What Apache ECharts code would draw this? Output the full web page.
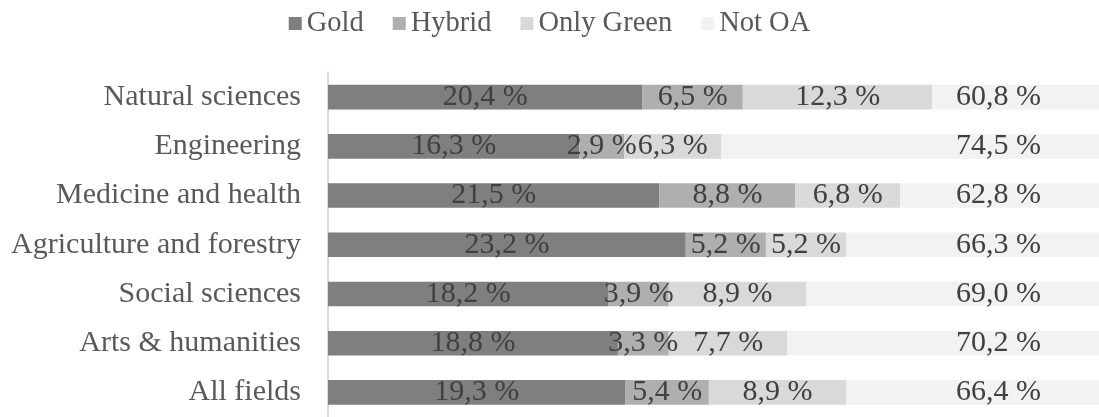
<!DOCTYPE html>
<html>
<head>
<meta charset="utf-8">
<script src="https://cdn.jsdelivr.net/npm/echarts@6/dist/echarts.min.js"></script>
<style>
  html, body { margin: 0; padding: 0; background: #fff; }
  #chart { width: 1099px; height: 417px; }
</style>
</head>
<body>
<div id="chart"></div>
<script>
  // categories, top to bottom
  let categories = ['Natural sciences', 'Engineering', 'Medicine and health', 'Agriculture and forestry',
    'Social sciences', 'Arts & humanities', 'All fields']
  let gold = [20.4, 16.3, 21.5, 23.2, 18.2, 18.8, 19.3]
  let hybrid = [6.5, 2.9, 8.8, 5.2, 3.9, 3.3, 5.4]
  let onlyGreen = [12.3, 6.3, 6.8, 5.2, 8.9, 7.7, 8.9]
  let notOA = [60.8, 74.5, 62.8, 66.3, 69.0, 70.2, 66.4]
  let seriesNames = ['Gold', 'Hybrid', 'Only Green', 'Not OA']
  let colors = ['#7f7f7f', '#afafaf', '#d9d9d9', '#f2f2f2']

  let font = 'Liberation Serif'
  let fmt = p => p.value.toFixed(1).replace('.', ',') + ' %'

  let series = [gold, hybrid, onlyGreen, notOA].map((vals, k) => {
    let last = k === 3
    return {
      name: seriesNames[k],
      type: 'bar',
      stack: 'total',
      barWidth: '50%',
      clip: true,
      data: vals,
      itemStyle: { color: colors[k] },
      label: {
        show: true,
        // the last segment runs past the axis end, so its label sits near the right edge
        position: last ? 'insideRight' : 'inside',
        distance: last ? 58 : 5,
        formatter: fmt,
        color: '#404040',
        fontFamily: font,
        fontSize: 30
      },
      emphasis: { disabled: true }
    }
  })

  let option = {
    animation: false,
    legend: {
      data: seriesNames,
      top: 4,
      left: 'center',
      icon: 'rect',
      itemWidth: 13,
      itemHeight: 13,
      itemGap: 29,
      textStyle: { fontFamily: font, fontSize: 28.5, color: '#595959' }
    },
    grid: {
      left: 328,
      right: 0,
      top: 72.5,
      bottom: -5.5,
      containLabel: false
    },
    xAxis: {
      type: 'value',
      min: 0,
      max: 50,
      show: false
    },
    yAxis: {
      type: 'category',
      inverse: true,
      data: categories,
      axisLine: { show: true, lineStyle: { color: '#d9d9d9', width: 2 } },
      axisTick: { show: false },
      axisLabel: { margin: 27, fontFamily: font, fontSize: 30, color: '#595959' },
      splitLine: { show: false }
    },
    series: series
  }

  echarts.init(document.getElementById('chart')).setOption(option)
</script>
</body>
</html>
